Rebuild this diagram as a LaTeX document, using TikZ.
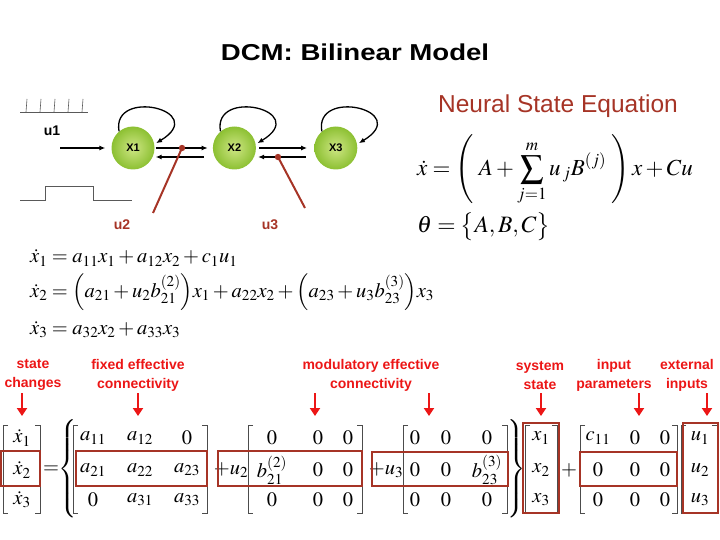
\documentclass[tikz,border=0pt]{standalone}
\usepackage{amsmath}
\usepackage{mathptmx}
\usepackage[no-math]{fontspec}
\setsansfont{Liberation Sans}
\usetikzlibrary{positioning,arrows.meta}
\definecolor{ballgreen}{RGB}{140,192,50}
\definecolor{balllight}{RGB}{206,230,132}
\definecolor{brick}{RGB}{166,52,38}
\definecolor{alert}{RGB}{236,22,22}
\tikzset{
  neuron/.style={
    circle,
    minimum size=43pt,
    inner sep=0pt,
    shading=radial,
    inner color=balllight,
    outer color=ballgreen,
    font=\sffamily\bfseries\fontsize{11}{12}\selectfont,
  },
  conn/.style={
    -{Latex[length=6pt,width=5pt]},
    line width=1.3pt,
  },
  selfloop/.style={
    to path={.. controls +(-8,-44) and +(56,-34) .. (\tikztotarget)},
  },
  modline/.style={
    draw=brick,
    line width=2pt,
  },
  signal/.style={
    draw=gray!70!black,
    line width=0.6pt,
  },
  inlabel/.style={
    font=\sffamily\bfseries\fontsize{14}{16}\selectfont,
  },
  note/.style={
    text=alert,
    align=center,
    font=\sffamily\bfseries\fontsize{14}{19}\selectfont,
  },
  pointer/.style={
    draw=alert,
    line width=2.5pt,
    -{Triangle[length=8pt,width=10pt]},
  },
  ent/.style={
    font=\fontsize{20.5}{24}\selectfont,
    inner sep=0pt,
  },
  eqn/.style={
    anchor=west,
    inner sep=0pt,
    font=\fontsize{20.5}{24}\selectfont,
  },
  brk/.style={
    draw=gray!60!black,
    line width=0.8pt,
  },
  hlbox/.style={
    draw=brick,
    line width=2.5pt,
  },
}
\newcommand\mbrackets[2]{%
  \draw[brk] (#1+5,425) -| (#1,513) -- (#1+5,513);
  \draw[brk] (#2-5,425) -| (#2,513) -- (#2-5,513);
}

\begin{document}
\begin{tikzpicture}[x=1pt,y=-1pt,node distance=58pt]
  \useasboundingbox (0,0) rectangle (720,540);

  \node (title) at (355,52) {\sffamily\bfseries\fontsize{23}{26}\selectfont\scalebox{1.2}[1]{DCM: Bilinear Model}};

  % inputs
  \draw[signal] (20,112) -- (88,112);
  \foreach \s in {26,40,54,68,82}
    \draw[signal] (\s,112) -- (\s+1,99);
  \draw[signal] (20,200) -- (45,200) -- (45,186) -- (93,186) -- (93,200) -- (132,200);
  \node[inlabel] (u1) at (52,131) {u1};

  % network
  \node[neuron] (x1) at (133,148) {X1};
  \node[neuron, right=of x1] (x2) {X2};
  \node[neuron, right=of x2] (x3) {X3};

  \coordinate (u1in) at (60,148);
  \draw[conn, shorten >=6pt] (u1in) -- (x1.west);

  \draw[conn, shorten <=1pt, shorten >=5pt] (x1.east) -- (x2.west);
  \draw[conn, shorten <=9pt, shorten >=1pt] ([yshift=-9pt]x2.west) -- ([yshift=-9pt]x1.east);
  \draw[conn, shorten <=3pt, shorten >=7pt] (x2.east) -- (x3.west);
  \draw[conn, shorten <=8pt, shorten >=2pt] ([yshift=-9pt]x3.west) -- ([yshift=-9pt]x2.east);

  \foreach \n in {x1,x2,x3}
    \draw[conn, shorten >=2pt] (\n.130) to[selfloop] (\n.10);

  \coordinate (m2) at (182,148);
  \coordinate (m2s) at (153,213);
  \coordinate (m3) at (278,157);
  \coordinate (m3s) at (305,208);
  \draw[modline] (m2s) -- (m2);
  \draw[modline] (m3s) -- (m3);
  \fill[brick] (m2) circle (3.2);
  \fill[brick] (m3) circle (3.2);
  \node[inlabel, text=brick] (u2) at (122,225) {u2};
  \node[inlabel, text=brick] (u3) at (270,225) {u3};

  % neural state equation
  \node[font=\sffamily\fontsize{24.5}{28}\selectfont, text=brick] (nse) at (558,106) {Neural State Equation};
  \node[eqn, font=\fontsize{23}{27}\selectfont] (nseq) at (417,170)
    {$\dot{x} = \left(\; A + \displaystyle\sum_{j=1}^{m} u_{\,j} B^{(j)} \;\right) x + Cu$};
  \node[eqn, font=\fontsize{23.5}{27}\selectfont] (theta) at (417,227) {$\theta = \bigl\{A, B, C\bigr\}$};

  % component equations
  \node[eqn] (eq1) at (30,258) {$\dot{x}_1 = a_{11}x_1 + a_{12}x_2 + c_1u_1$};
  \node[eqn] (eq2) at (30,292) {$\dot{x}_2 = \Bigl(a_{21} + u_2 b_{21}^{(2)}\Bigr)x_1 + a_{22}x_2 + \Bigl(a_{23} + u_3 b_{23}^{(3)}\Bigr)x_3$};
  \node[eqn] (eq3) at (30,330) {$\dot{x}_3 = a_{32}x_2 + a_{33}x_3$};

  % labels
  \node[note] (lstate) at (33,375) {state\\changes};
  \node[note] (lfixed) at (138,375) {fixed effective\\connectivity};
  \node[note] (lmod) at (371,375) {modulatory effective\\connectivity};
  \node[note] (lsys) at (540,375) {system\\state};
  \node[note] (linput) at (614,375) {input\\parameters};
  \node[note] (lext) at (687,375) {external\\inputs};
  \foreach \t/\px in {tstate/22,tfixed/138,tmodA/315,tmodB/429,tsys/541,tinput/639,text/707} {
    \coordinate (\t) at (\px,416);
    \draw[pointer] ([yshift=23pt]\t) -- (\t);
  }

  % matrix form
  \foreach \r/\y in {1/438,2/470,3/500} {
    \node[ent] (xd\r) at (22,\y) {$\dot{x}_{\r}$};
    \node[ent] (xv\r) at (541,\y) {$x_{\r}$};
    \node[ent] (uv\r) at (700,\y) {$u_{\r}$};
  }
  \foreach \y/\p/\q/\s [count=\r] in {438/a_{11}/a_{12}/0,470/a_{21}/a_{22}/a_{23},500/0/a_{31}/a_{33}} {
    \node[ent] (a\r1) at (93,\y) {$\p$};
    \node[ent] (a\r2) at (140,\y) {$\q$};
    \node[ent] (a\r3) at (187,\y) {$\s$};
  }
  \foreach \y/\p/\q/\s [count=\r] in {438/0/0/0,470/b_{21}^{(2)}/0/0,500/0/0/0} {
    \node[ent] (b\r1) at (272,\y) {$\p$};
    \node[ent] (b\r2) at (318,\y) {$\q$};
    \node[ent] (b\r3) at (348,\y) {$\s$};
  }
  \foreach \y/\p/\q/\s [count=\r] in {438/0/0/0,470/0/0/b_{23}^{(3)},500/0/0/0} {
    \node[ent] (d\r1) at (415,\y) {$\p$};
    \node[ent] (d\r2) at (446,\y) {$\q$};
    \node[ent] (d\r3) at (487,\y) {$\s$};
  }
  \foreach \y/\p [count=\r] in {438/c_{11},470/0,500/0} {
    \node[ent] (c\r1) at (598,\y) {$\p$};
    \node[ent] (c\r2) at (635,\y) {$0$};
    \node[ent] (c\r3) at (665,\y) {$0$};
  }
  \node[ent] (eqs) at (51,470) {$=$};
  \node[ent] (lbrace) at (68,469) {$\left\{\vrule height 44pt depth 44pt width 0pt\right.$};
  \node[ent] (pu2) at (231,470) {$+u_2$};
  \node[ent] (pu3) at (386,470) {$+u_3$};
  \node[ent] (rbrace) at (516,469) {$\left.\vrule height 44pt depth 44pt width 0pt\right\}$};
  \node[ent] (plus) at (569,470) {$+$};

  \mbrackets{3}{40}
  \mbrackets{73}{207}
  \mbrackets{248}{362}
  \mbrackets{403}{507}
  \mbrackets{525}{557}
  \mbrackets{580}{677}
  \mbrackets{681}{717}

  \draw[hlbox] (1,451) rectangle (40,486);
  \draw[hlbox] (76,451) rectangle (207,486);
  \draw[hlbox] (218,451) rectangle (362,486);
  \draw[hlbox] (372,452) rectangle (508,486);
  \draw[hlbox] (523,423) rectangle (559,513);
  \draw[hlbox] (580,452) rectangle (677,486);
  \draw[hlbox] (683,423) rectangle (718,513);
\end{tikzpicture}
\end{document}
